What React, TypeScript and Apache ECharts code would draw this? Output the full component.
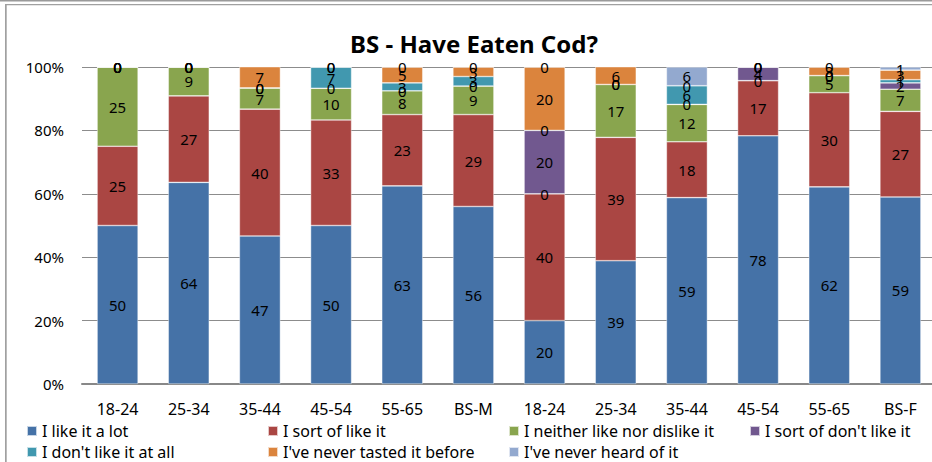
import React, { useEffect, useRef } from "react";
import * as echarts from "echarts";

const categories = ["18-24", "25-34", "35-44", "45-54", "55-65", "BS-M", "18-24", "25-34", "35-44", "45-54", "55-65", "BS-F"];
const yTicks = [0, 20, 40, 60, 80, 100];

const likeALot = [50, 63.6, 46.7, 50, 62.5, 56, 20, 38.9, 58.8, 78.3, 62.2, 59];
const sortOfLike = [25, 27.3, 40, 33.3, 22.5, 29, 40, 38.9, 17.6, 17.4, 29.7, 27];
const neither = [25, 9.1, 6.7, 10, 7.5, 9, 0, 16.7, 11.8, 0, 5.4, 7];
const sortOfDont = [0, 0, 0, 0, 0, 0, 20, 0, 0, 4.3, 0, 2];
const dontLike = [0, 0, 0, 6.7, 2.5, 3, 0, 0, 5.9, 0, 0, 1];
const neverTasted = [0, 0, 6.7, 0, 5, 3, 20, 5.6, 0, 0, 2.7, 3];
const neverHeard = [0, 0, 0, 0, 0, 0, 0, 0, 5.9, 0, 0, 1];

const seriesNames = [
  "I like it a lot",
  "I sort of like it",
  "I neither like nor dislike it",
  "I sort of don't like it",
  "I don't like it at all",
  "I've never tasted it before",
  "I've never heard of it",
];
const seriesData = [likeALot, sortOfLike, neither, sortOfDont, dontLike, neverTasted, neverHeard];
const colors = ["#4572A7", "#AA4643", "#89A54E", "#71588F", "#4198AF", "#DB843D", "#93A9CF"];

const FONT = "Noto Sans";

export default function App() {
  const ref = useRef<HTMLDivElement>(null);
  useEffect(() => {
    if (!ref.current) return;
    const chart = echarts.init(ref.current, null, { renderer: "svg" });
    chart.setOption({
      animation: false,
      backgroundColor: "#ffffff",
      textStyle: { fontFamily: FONT },
      title: {
        text: "BS - Have Eaten Cod?",
        left: 474,
        top: 31,
        textAlign: "center",
        padding: 0,
        textStyle: { fontFamily: FONT, fontSize: 24, fontWeight: "bold", color: "#000" },
      },
      graphic: [
        { type: "rect", shape: { x: 0, y: 0, width: 932, height: 1.5 }, style: { fill: "#9a9a9a" }, silent: true },
        { type: "rect", shape: { x: 5, y: 4, width: 927, height: 1.3 }, style: { fill: "#a0a0a0" }, silent: true },
        { type: "rect", shape: { x: 5, y: 4, width: 1.7, height: 458 }, style: { fill: "#a0a0a0" }, silent: true },
      ],
      legend: {
        left: 26,
        top: 420.5,
        width: 1000,
        padding: 0,
        itemGap: 0,
        itemWidth: 10,
        itemHeight: 10,
        icon: "rect",
        data: seriesNames,
        textStyle: { fontFamily: FONT, fontSize: 16, color: "#000", width: 225, lineHeight: 21 },
      },
      grid: { left: 82, top: 67, width: 854, height: 317, outerBoundsMode: "none" },
      xAxis: {
        type: "category",
        data: categories,
        axisLine: { show: true, lineStyle: { color: "#888", width: 2 } },
        axisTick: { show: false },
        axisLabel: { fontFamily: FONT, fontSize: 16, color: "#000", margin: 17, interval: 0 },
      },
      yAxis: {
        type: "value",
        min: yTicks[0],
        max: yTicks[yTicks.length - 1],
        interval: 20,
        axisLine: { show: false },
        axisTick: { show: false },
        splitLine: { show: true, lineStyle: { color: "#8c8c8c", width: 1.2 } },
        axisLabel: { fontFamily: FONT, fontSize: 15, color: "#000", margin: 18, formatter: "{value}%" },
      },
      series: seriesData.map((d, i) => ({
        name: seriesNames[i],
        type: "bar",
        stack: "total",
        barWidth: 41,
        data: d,
        itemStyle: { color: colors[i], borderColor: "rgba(255,255,255,0.7)", borderWidth: 0.6 },
        label: {
          show: true,
          position: "inside",
          fontFamily: FONT,
          fontSize: 15,
          color: "#000",
          formatter: (p: any) => String(Math.round(p.value)),
        },
      })),
    });
    return () => chart.dispose();
  }, []);
  return <div ref={ref} style={{ position: "fixed", left: 0, top: 0, width: 932, height: 462 }} />;
}
